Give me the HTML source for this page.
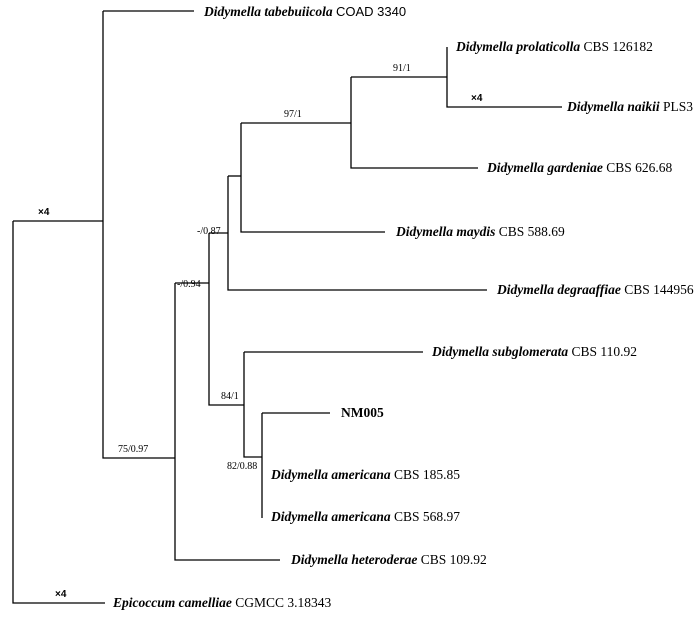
<!DOCTYPE html>
<html><head><meta charset="utf-8"><style>
html,body{margin:0;padding:0;background:#fff;}
svg{display:block;}
.t{font-family:"Liberation Serif",serif;font-size:13.5px;fill:#000;}
.s{font-family:"Liberation Serif",serif;font-size:10px;fill:#000;}
.x{font-family:"Liberation Sans",sans-serif;font-size:10px;font-weight:bold;fill:#000;}
</style></head><body>
<svg width="700" height="617" viewBox="0 0 700 617" xmlns="http://www.w3.org/2000/svg">
<g stroke="#000" stroke-width="1.3" fill="none">
<path d="M13 221V603H105"/>
<path d="M13 221H103"/>
<path d="M103 11V458H175"/>
<path d="M103 11H194"/>
<path d="M175 283V560H280"/>
<path d="M175 283H209"/>
<path d="M209 233V405H244"/>
<path d="M209 233H228"/>
<path d="M228 176V290H487"/>
<path d="M228 176H241"/>
<path d="M241 123V232H385"/>
<path d="M241 123H351"/>
<path d="M351 77V168H478"/>
<path d="M351 77H447"/>
<path d="M447 47V107H562"/>
<path d="M244 352V457H262"/>
<path d="M244 352H423"/>
<path d="M262 413V518"/>
<path d="M262 413H330"/>
</g>
<text class="x" x="38" y="215">×4</text>
<text class="x" x="55" y="597">×4</text>
<text class="x" x="471" y="101">×4</text>
<text class="s" x="284" y="117">97/1</text>
<text class="s" x="393" y="71">91/1</text>
<text class="s" x="197" y="234">-/0.87</text>
<text class="s" x="177" y="287">-/0.94</text>
<text class="s" x="118" y="452">75/0.97</text>
<text class="s" x="221" y="399">84/1</text>
<text class="s" x="227" y="469">82/0.88</text>
<text class="t" x="204" y="16"><tspan font-weight="bold" font-style="italic">Didymella tabebuiicola</tspan> <tspan font-family="Liberation Sans" font-size="13">COAD 3340</tspan></text>
<text class="t" x="456" y="51"><tspan font-weight="bold" font-style="italic">Didymella prolaticolla</tspan> CBS 126182</text>
<text class="t" x="567" y="111"><tspan font-weight="bold" font-style="italic">Didymella naikii</tspan> PLS3</text>
<text class="t" x="487" y="172"><tspan font-weight="bold" font-style="italic">Didymella gardeniae</tspan> CBS 626.68</text>
<text class="t" x="396" y="236"><tspan font-weight="bold" font-style="italic">Didymella maydis</tspan> CBS 588.69</text>
<text class="t" x="497" y="294"><tspan font-weight="bold" font-style="italic">Didymella degraaffiae</tspan> CBS 144956</text>
<text class="t" x="432" y="356"><tspan font-weight="bold" font-style="italic">Didymella subglomerata</tspan> CBS 110.92</text>
<text class="t" x="341" y="417" font-weight="bold">NM005</text>
<text class="t" x="271" y="479"><tspan font-weight="bold" font-style="italic">Didymella americana</tspan> CBS 185.85</text>
<text class="t" x="271" y="521"><tspan font-weight="bold" font-style="italic">Didymella americana</tspan> CBS 568.97</text>
<text class="t" x="291" y="564"><tspan font-weight="bold" font-style="italic">Didymella heteroderae</tspan> CBS 109.92</text>
<text class="t" x="113" y="607"><tspan font-weight="bold" font-style="italic">Epicoccum camelliae</tspan> CGMCC 3.18343</text>
</svg>
</body></html>
